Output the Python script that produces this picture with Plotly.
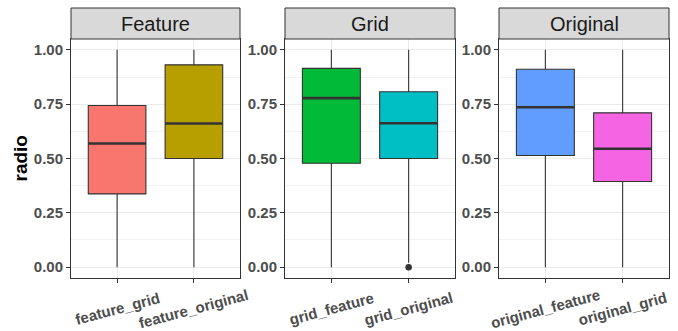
import plotly.graph_objects as go

# ---- data ----
facets = ["Feature", "Grid", "Original"]
groups = [["feature_grid", "feature_original"],
          ["grid_feature", "grid_original"],
          ["original_feature", "original_grid"]]
q1 = [0.337, 0.500, 0.478, 0.500, 0.514, 0.394]
median = [0.569, 0.661, 0.778, 0.662, 0.736, 0.545]
q3 = [0.744, 0.931, 0.915, 0.807, 0.911, 0.710]
lower = [0.0, 0.0, 0.0, 0.02, 0.0, 0.0]
upper = [1.0, 1.0, 1.0, 1.0, 1.0, 1.0]
outlier_group = ["grid_original"]
outlier_value = [0.0]
colors = ["#F8766D", "#B79F00", "#00BA38", "#00BFC4", "#619CFF", "#F564E3"]
y_ticks = [0.0, 0.25, 0.5, 0.75, 1.0]
y_ticklabels = ["0.00", "0.25", "0.50", "0.75", "1.00"]
y_title = "radio"

# ---- layout geometry ----
W, H = 678, 331
panel_px = [(71, 240), (285, 455), (499, 669)]
plot_top, plot_bot = 39, 278
strip_top = 8
box_w = 0.75
DARK = "#333333"
TICKC = "#4D4D4D"
FONT = "Liberation Sans, Arial, sans-serif"

fig = go.Figure()
shapes = []
annotations = []

k = 0
for p, facet in enumerate(facets):
    xa = "x" if p == 0 else f"x{p+1}"
    ya = "y" if p == 0 else f"y{p+1}"
    for i, g in enumerate(groups[p]):
        fig.add_trace(go.Box(
            x=[i], q1=[q1[k]], median=[median[k]], q3=[q3[k]],
            lowerfence=[lower[k]], upperfence=[upper[k]],
            width=box_w, whiskerwidth=0,
            fillcolor=colors[k], line=dict(color=DARK, width=1.1),
            boxpoints=False, xaxis=xa, yaxis=ya, showlegend=False,
            hoverinfo="skip"))
        # thicker median line (ggplot style)
        fig.add_trace(go.Scatter(
            x=[i - box_w / 2, i + box_w / 2], y=[median[k], median[k]],
            mode="lines", line=dict(color=DARK, width=2.6),
            xaxis=xa, yaxis=ya, showlegend=False, hoverinfo="skip"))
        for og, ov in zip(outlier_group, outlier_value):
            if og == g:
                fig.add_trace(go.Scatter(
                    x=[i], y=[ov], mode="markers",
                    marker=dict(color=DARK, size=6.5),
                    xaxis=xa, yaxis=ya, showlegend=False, hoverinfo="skip"))
        # rotated x labels
        annotations.append(dict(
            x=i, xref=xa, y=1 - 308 / H, yref="paper", text=g,
            textangle=-15, showarrow=False, xanchor="center", yanchor="middle",
            font=dict(family=FONT, size=15, color=TICKC, weight="bold")))
        k += 1

    x0, x1 = panel_px[p]
    dom = [x0 / W, x1 / W]
    ydom = [1 - plot_bot / H, 1 - plot_top / H]
    xkey = "xaxis" if p == 0 else f"xaxis{p+1}"
    ykey = "yaxis" if p == 0 else f"yaxis{p+1}"
    fig.layout[xkey] = dict(
        domain=dom, anchor=ya, range=[-0.6, 1.6],
        tickvals=[0, 1], ticktext=["", ""],
        showgrid=True, gridcolor="#EBEBEB", gridwidth=1,
        showline=True, mirror=True, linecolor=DARK, linewidth=1,
        ticks="outside", ticklen=4, tickcolor=DARK, tickwidth=1,
        zeroline=False, fixedrange=True)
    fig.layout[ykey] = dict(
        domain=ydom, anchor=xa, range=[-0.05, 1.05],
        tickvals=y_ticks, ticktext=y_ticklabels,
        tickfont=dict(family=FONT, size=15, color=TICKC, weight="bold"),
        showgrid=True, gridcolor="#EBEBEB", gridwidth=1,
        minor=dict(tickvals=[0.125, 0.375, 0.625, 0.875], showgrid=True,
                   gridcolor="#F2F2F2", gridwidth=0.6, ticks=""),
        showline=True, mirror=True, linecolor=DARK, linewidth=1,
        ticks="outside", ticklen=4, tickcolor=DARK, tickwidth=1,
        zeroline=False, fixedrange=True)
    # strip
    shapes.append(dict(type="rect", xref="paper", yref="paper",
                       x0=dom[0], x1=dom[1], y0=1 - plot_top / H, y1=1 - strip_top / H,
                       fillcolor="#D9D9D9", line=dict(color=DARK, width=1)))
    annotations.append(dict(
        x=(dom[0] + dom[1]) / 2, xref="paper",
        y=1 - (plot_top + strip_top) / 2 / H, yref="paper",
        text=facet, showarrow=False, xanchor="center", yanchor="middle",
        font=dict(family=FONT, size=20, color="#1A1A1A")))

annotations.append(dict(
    x=20 / W, xref="paper", y=1 - (plot_top + plot_bot) / 2 / H, yref="paper",
    text=y_title, textangle=-90, showarrow=False, xanchor="center", yanchor="middle",
    font=dict(family=FONT, size=19, color="black", weight="bold")))

fig.update_layout(
    width=W, height=H, margin=dict(l=0, r=0, t=0, b=0),
    paper_bgcolor="white", plot_bgcolor="white",
    shapes=shapes, annotations=annotations, showlegend=False)

fig.write_html("out.html", config={"displayModeBar": False},
               post_script="document.body.style.margin='0';document.body.style.overflow='hidden';")
